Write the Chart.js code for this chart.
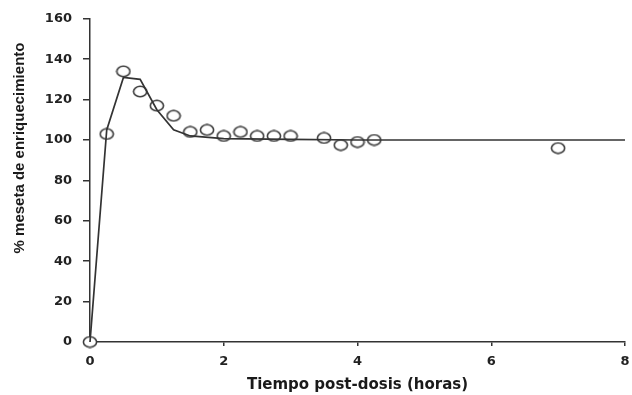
<!DOCTYPE html>
<html><head><meta charset="utf-8">
<script src="https://cdn.jsdelivr.net/npm/chart.js@4/dist/chart.umd.min.js"></script>
<style>html,body{margin:0;padding:0;background:#fff}#wrap{width:632px;height:395px}</style>
</head><body><div id="wrap"><canvas id="c" width="632" height="395"></canvas></div>
<script>
// Observed data (hours, % plateau)
const obsTime  = [0, 0.25, 0.5, 0.75, 1.0, 1.25, 1.5, 1.75, 2.0, 2.25, 2.5, 2.75, 3.0, 3.5, 3.75, 4.0, 4.25, 7.0];
const obsValue = [0, 103, 134, 124, 117, 112, 104, 105, 102, 104, 102, 102, 102, 101, 97.5, 99, 100, 96];
// Model fit curve
const fitTime  = [0, 0.25, 0.5, 0.75, 1.0, 1.25, 1.5, 2.0, 3.0, 4.0, 8.0];
const fitValue = [0, 105, 131, 130, 115, 105, 102, 100.7, 100.3, 100, 100];
const xTicks = [0, 2, 4, 6, 8];
const yTicks = [0, 20, 40, 60, 80, 100, 120, 140, 160];
const yTitle = '% meseta de enriquecimiento';
const xTitle = 'Tiempo post-dosis (horas)';

const ell = document.createElement('canvas');
ell.width = 16; ell.height = 13;
const g = ell.getContext('2d');
g.beginPath(); g.ellipse(8, 6.5, 6.6, 5.3, 0, 0, Math.PI*2);
g.fillStyle = '#fff'; g.fill(); g.lineWidth = 1.6; g.strokeStyle = '#3a3a3a'; g.stroke();

const tickFont = {family: '"DejaVu Sans", sans-serif', size: 13, weight: 'bold'};

const yTitlePlugin = {
  id: 'yTitle',
  afterDraw(chart) {
    const ctx = chart.ctx;
    ctx.save();
    ctx.translate(19.5, 148);
    ctx.rotate(-Math.PI / 2);
    ctx.font = 'bold 15px "Liberation Sans", Arial, sans-serif';
    ctx.fillStyle = '#1a1a1a';
    ctx.textAlign = 'center';
    ctx.textBaseline = 'middle';
    ctx.fillText(yTitle, 0, 0);
    ctx.restore();
  }
};

new Chart(document.getElementById('c'), {
  type: 'scatter',
  data: {datasets: [
    {type: 'line', data: fitTime.map((t,i)=>({x:t,y:fitValue[i]})), borderColor: '#333', borderWidth: 1.7, pointRadius: 0, tension: 0, clip: false},
    {data: obsTime.map((t,i)=>({x:t,y:obsValue[i]})), pointStyle: ell, pointRadius: 6, clip: false}
  ]},
  plugins: [yTitlePlugin],
  options: {
    responsive: false, animation: false, devicePixelRatio: 1,
    layout: {padding: {top: 16, right: -3, left: 0, bottom: 0}},
    plugins: {legend: {display: false}, tooltip: {enabled: false}},
    scales: {
      x: {type: 'linear', min: 0, max: 8,
        afterBuildTicks: s => { s.ticks = xTicks.map(v=>({value:v})); },
        afterFit: s => { s.height = 53; s.paddingRight = 1; s.paddingLeft = 0; },
        grid: {display: true, drawOnChartArea: false, drawTicks: true, tickLength: 4, color: '#333', lineWidth: 1.5},
        border: {display: true, color: '#333', width: 1.5},
        ticks: {color: '#222', font: tickFont, padding: 8, maxRotation: 0},
        title: {display: true, text: xTitle, color: '#1a1a1a', font: {family: '"DejaVu Sans", sans-serif', size: 15, weight: 'bold'}, padding: {top: 0, bottom: 1}}
      },
      y: {min: 0, max: 160,
        afterBuildTicks: s => { s.ticks = yTicks.map(v=>({value:v})); },
        afterFit: s => { s.width = 90; },
        grid: {display: true, drawOnChartArea: false, drawTicks: true, tickLength: 7, color: '#333', lineWidth: 1.5},
        border: {display: true, color: '#333', width: 1.5},
        ticks: {color: '#222', font: tickFont, padding: 11},
        title: {display: false}
      }
    }
  }
});
</script></body></html>
